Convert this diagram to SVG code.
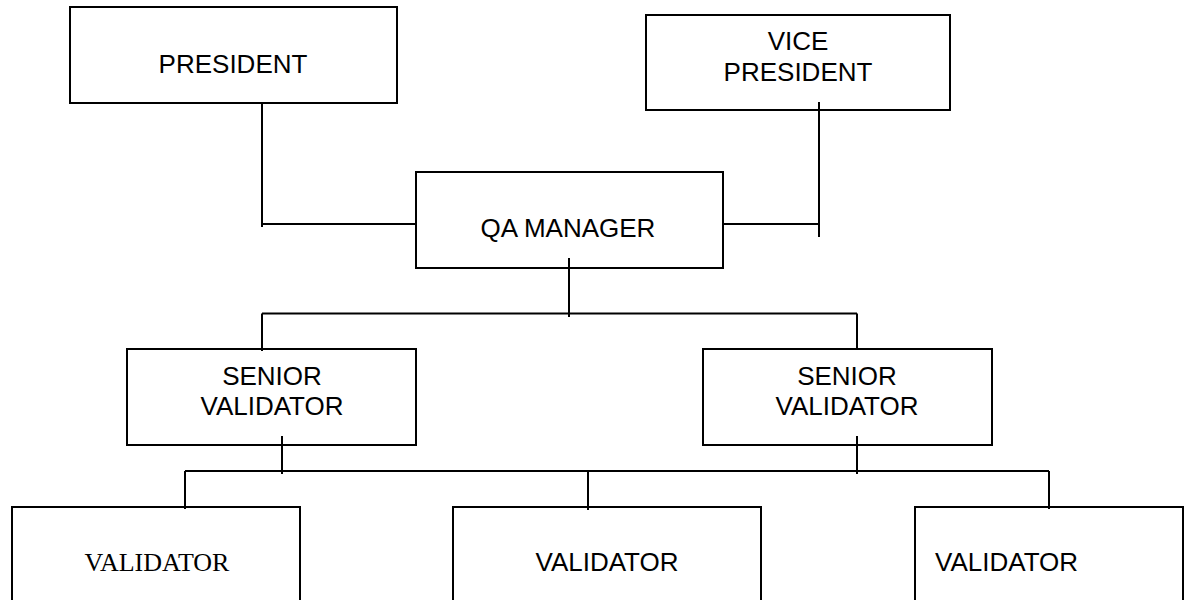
<svg xmlns="http://www.w3.org/2000/svg" width="1190" height="600" viewBox="0 0 1190 600">
<style>
.box{fill:#fff;stroke:#000;stroke-width:2}
.ln{stroke:#000;stroke-width:2;fill:none}
.t{font-family:"Liberation Sans",Arial,sans-serif;font-size:26px;fill:#000;text-anchor:middle}
.ts{font-family:"Liberation Serif","Times New Roman",serif;font-size:26px;fill:#000;text-anchor:middle}
</style>
<rect width="1190" height="600" fill="#fff"/>
<g id="president">
<rect class="box" x="70" y="7" width="327" height="96"/>
<text class="t" x="233" y="73">PRESIDENT</text>
</g>
<g id="vice-president">
<rect class="box" x="646" y="15" width="304" height="95"/>
<text class="t" x="798" y="50">VICE</text>
<text class="t" x="798" y="81">PRESIDENT</text>
</g>
<g id="qa-manager">
<rect class="box" x="416" y="172" width="307" height="96"/>
<text class="t" x="568" y="237">QA MANAGER</text>
</g>
<g id="senior-validator-1">
<rect class="box" x="127" y="349" width="289" height="96"/>
<text class="t" x="272" y="385">SENIOR</text>
<text class="t" x="272" y="415">VALIDATOR</text>
</g>
<g id="senior-validator-2">
<rect class="box" x="703" y="349" width="289" height="96"/>
<text class="t" x="847" y="385">SENIOR</text>
<text class="t" x="847" y="415">VALIDATOR</text>
</g>
<g id="validator-1">
<rect class="box" x="12" y="507" width="288" height="110"/>
<text class="ts" x="157" y="571">VALIDATOR</text>
</g>
<g id="validator-2">
<rect class="box" x="453" y="507" width="308" height="110"/>
<text class="t" x="607" y="571">VALIDATOR</text>
</g>
<g id="validator-3">
<rect class="box" x="915" y="507" width="268" height="110"/>
<text class="t" x="935" y="571" style="text-anchor:start">VALIDATOR</text>
</g>
<g id="connectors">
<path class="ln" d="M262 102V227M262 224H416"/>
<path class="ln" d="M819 102V237M723 224H819"/>
<path class="ln" d="M569 258V317M262 313.5H857M262 313.5V351M857 313.5V350"/>
<path class="ln" d="M282 436V474M857 436V474M185 471H1049M185 471V509M588 471V510M1049 471V509"/>
</g>
</svg>
